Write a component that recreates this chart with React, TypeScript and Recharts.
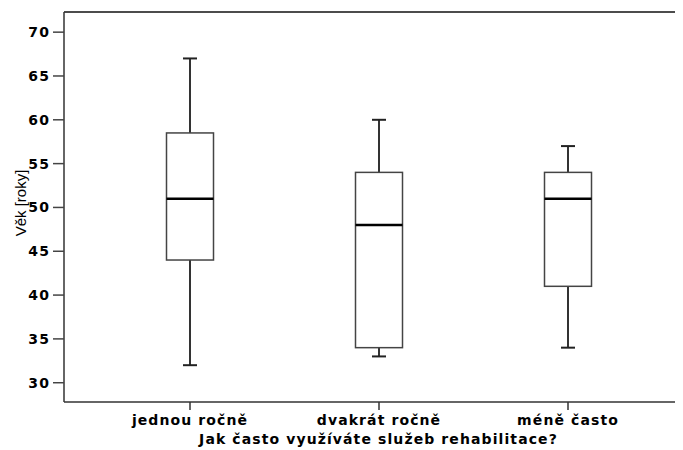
import { ComposedChart, Bar, XAxis, YAxis, ReferenceLine, Label } from "recharts";

// SPSS-style box plot: age by how often rehab services are used
const categories = ["jednou ročně", "dvakrát ročně", "méně často"];
const minima = [32, 33, 34];
const lowerQuartiles = [44, 34, 41];
const medians = [51, 48, 51];
const upperQuartiles = [58.5, 54, 54];
const maxima = [67, 60, 57];
const yTicks = [30, 35, 40, 45, 50, 55, 60, 65, 70];
const yDomain = [27.8, 72.3];

const data = categories.map((name, i) => ({
  name,
  min: minima[i],
  q1: lowerQuartiles[i],
  median: medians[i],
  q3: upperQuartiles[i],
  max: maxima[i],
}));

const FONT = "'DejaVu Sans', sans-serif";
const boldText = { fill: "#000", fontSize: 14, fontWeight: "bold", fontFamily: FONT, letterSpacing: 1.1 };

function BoxShape(props: any) {
  const { x, y, width, height, payload } = props;
  if (!payload) return null;
  const top = Math.min(y, y + height);
  const bottom = Math.max(y, y + height);
  // bar spans min..max, so map the other stats linearly inside it
  const k = (bottom - top) / (payload.max - payload.min);
  const py = (v: number) => bottom - (v - payload.min) * k;
  const cx = x + width / 2;
  const cap = 7;
  return (
    <g>
      <line x1={cx} x2={cx} y1={py(payload.max)} y2={py(payload.q3)} stroke="#333" strokeWidth={2} />
      <line x1={cx} x2={cx} y1={py(payload.q1)} y2={py(payload.min)} stroke="#333" strokeWidth={2} />
      <line x1={cx - cap} x2={cx + cap} y1={py(payload.max)} y2={py(payload.max)} stroke="#222" strokeWidth={2} />
      <line x1={cx - cap} x2={cx + cap} y1={py(payload.min)} y2={py(payload.min)} stroke="#222" strokeWidth={2} />
      <rect
        x={x}
        y={py(payload.q3)}
        width={width}
        height={py(payload.q1) - py(payload.q3)}
        fill="#fff"
        stroke="#444"
        strokeWidth={1.5}
      />
      <line x1={x} x2={x + width} y1={py(payload.median)} y2={py(payload.median)} stroke="#000" strokeWidth={2.5} />
    </g>
  );
}

function YTitle() {
  const cx = 12;
  const cy = 195;
  return (
    <text
      x={cx}
      y={cy}
      transform={`rotate(-90, ${cx}, ${cy})`}
      textAnchor="middle"
      dominantBaseline="central"
      style={{ fontSize: 15, fontFamily: "'Liberation Sans', Arial, sans-serif", fill: "#000" }}
    >
      Věk [roky]
    </text>
  );
}

export default function App() {
  return (
    <div style={{ width: 675, height: 440, background: "#fff" }}>
      <ComposedChart
        width={675}
        height={440}
        data={data}
        margin={{ top: 4, right: 0, left: 0, bottom: 0 }}
      >
        <XAxis
          dataKey="name"
          type="category"
          interval={0}
          height={46}
          padding={{ left: 31.5, right: 20.5 }}
          axisLine={{ stroke: "#333", strokeWidth: 1.5 }}
          tickLine={{ stroke: "#333", strokeWidth: 1.5 }}
          tickSize={8}
          tickMargin={5}
          tick={boldText}
        >
          <Label
            value="Jak často využíváte služeb rehabilitace?"
            position="insideBottom"
            offset={4}
            dx={5}
            style={boldText}
          />
        </XAxis>
        <YAxis
          type="number"
          width={56}
          domain={yDomain}
          ticks={yTicks}
          allowDataOverflow
          axisLine={{ stroke: "#333", strokeWidth: 1.5 }}
          tickLine={{ stroke: "#444", strokeWidth: 1.5 }}
          tickSize={11}
          tickMargin={3}
          tick={boldText}
        >
          <Label content={() => <YTitle />} />
        </YAxis>
        <ReferenceLine y={yDomain[1]} stroke="#111" strokeWidth={1.5} />
        <Bar
          dataKey={(d: any) => [d.min, d.max]}
          barSize={47}
          shape={BoxShape}
          isAnimationActive={false}
        />
      </ComposedChart>
    </div>
  );
}
